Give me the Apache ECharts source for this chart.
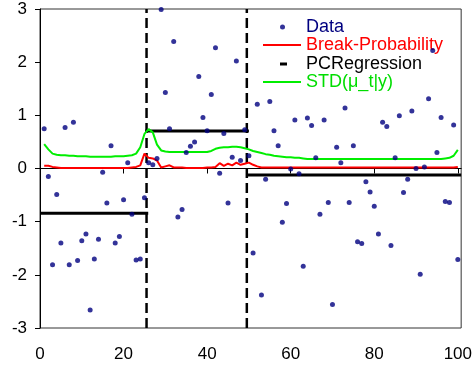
<!DOCTYPE html>
<html lang="en" style="height: 100%">
<head>
  <meta charset="utf-8">
</head>
<body style="height: 100%; margin: 0">
  <div id="container" style="height: 100%"></div>

  <script type="text/javascript" src="https://cdn.jsdelivr.net/npm/echarts@6/dist/echarts.min.js"></script>

  <script type="text/javascript">
    // observations y_t for t = 1..100
    var dataY = [
      0.75, -0.15, -1.81, -0.49, -1.40, 0.77, -1.81, 0.87, -1.73, -1.36,
      -1.23, -2.66, -1.70, -1.33, -0.07, -0.65, 0.43, -1.40, -1.28, -0.59,
      0.11, -0.86, -1.72, -1.70, -0.55, 0.11, 0.07, 0.19, 2.99, 1.43,
      0.75, 2.39, -0.91, -0.77, 0.30, 0.42, 0.50, 1.73, 0.96, 0.71,
      1.39, 2.27, -0.09, 0.66, -0.65, 0.21, 2.02, 0.15, 0.73, 0.24,
      -1.59, 1.21, -2.38, -0.20, 1.26, 0.71, 0.43, -1.01, -0.66, -0.01,
      0.91, -0.10, -1.84, 0.95, 0.81, 0.20, -0.86, 0.91, -0.64, -2.56,
      0.40, 0.11, 1.14, -0.64, 0.43, -1.38, -1.41, -0.25, -0.44, -0.71,
      -1.23, 0.87, 0.79, -1.45, 0.20, 0.99, -0.45, -0.20, 1.08, 0.00,
      -1.99, 0.03, 1.31, 2.22, 0.30, 0.96, -0.62, -0.64, 0.82, -1.71
    ];

    // posterior break probability
    var breakProb = [
      0.05, 0.05, 0.03, 0.02, 0.01, 0.01, 0.01, 0.01, 0.01, 0.01,
      0.01, 0.01, 0.01, 0.01, 0.01, 0.01, 0.01, 0.01, 0.01, 0.01,
      0.01, 0.02, 0.03, 0.06, 0.28, 0.20, 0.19, 0.15, 0.02, 0.04,
      0.06, 0.02, 0.02, 0.02, 0.01, 0.01, 0.01, 0.01, 0.01, 0.02,
      0.02, 0.03, 0.10, 0.05, 0.09, 0.06, 0.11, 0.07, 0.09, 0.11,
      0.07, 0.04, 0.02, 0.02, 0.02, 0.02, 0.02, 0.02, 0.02, 0.02,
      0.02, 0.02, 0.02, 0.02, 0.02, 0.02, 0.02, 0.02, 0.02, 0.02,
      0.02, 0.02, 0.02, 0.02, 0.02, 0.02, 0.02, 0.02, 0.02, 0.02,
      0.02, 0.02, 0.02, 0.02, 0.02, 0.02, 0.02, 0.02, 0.02, 0.02,
      0.02, 0.02, 0.02, 0.02, 0.02, 0.02, 0.02, 0.02, 0.02, 0.03
    ];

    // posterior std of mu_t
    var stdMu = [
      0.46, 0.36, 0.28, 0.26, 0.25, 0.25, 0.24, 0.24, 0.23, 0.23,
      0.23, 0.22, 0.22, 0.22, 0.22, 0.22, 0.22, 0.23, 0.23, 0.23,
      0.24, 0.25, 0.28, 0.40, 0.65, 0.74, 0.68, 0.45, 0.34, 0.32,
      0.31, 0.31, 0.31, 0.31, 0.31, 0.31, 0.31, 0.31, 0.31, 0.31,
      0.33, 0.37, 0.39, 0.40, 0.40, 0.41, 0.41, 0.40, 0.38, 0.36,
      0.33, 0.31, 0.29, 0.27, 0.26, 0.24, 0.23, 0.22, 0.21, 0.21,
      0.20, 0.20, 0.19, 0.18, 0.18, 0.18, 0.18, 0.18, 0.18, 0.18,
      0.18, 0.18, 0.18, 0.18, 0.18, 0.18, 0.18, 0.18, 0.18, 0.18,
      0.18, 0.18, 0.18, 0.18, 0.18, 0.18, 0.18, 0.18, 0.18, 0.18,
      0.18, 0.18, 0.18, 0.18, 0.18, 0.18, 0.19, 0.20, 0.24, 0.35
    ];

    // piecewise constant regression: [start, end, level]
    var pcSegments = [[0, 25.9, -0.84], [25.2, 50.0, 0.705], [49.3, 100.8, -0.12]];
    var breakPoints = [25.5, 49.5];

    var xTicks = [0, 20, 40, 60, 80, 100];

    var dom = document.getElementById('container');
    var myChart = echarts.init(dom, null, { renderer: 'canvas' });

    var font = "'Liberation Sans', Arial, sans-serif";

    function pairs(arr) {
      return arr.map(function (v, i) { return [i + 1, v]; });
    }

    var pcData = [];
    pcSegments.forEach(function (s) {
      pcData.push([s[0], s[2]], [s[1], s[2]], [s[1], '-']);
    });

    var breakData = [];
    breakPoints.forEach(function (b) {
      breakData.push([b, -3], [b, 3], [b, '-']);
    });

    function legendRow(name, top, color, icon, w, h) {
      return {
        data: [{ name: name, icon: icon }],
        left: 263,
        top: top,
        padding: 0,
        itemWidth: w,
        itemHeight: h,
        itemGap: 0,
        selectedMode: false,
        textStyle: { color: color, fontSize: 18, fontFamily: font, padding: [0, 0, 0, 0] }
      };
    }

    var option = {
      animation: false,
      backgroundColor: '#fff',
      grid: {
        left: 40, right: 12, top: 9, bottom: 42,
        show: true, borderColor: '#333', borderWidth: 1
      },
      legend: [
        legendRow('Data', 18, '#000080', 'path://M0,0M38,5M17,2.5a2.5,2.5 0 1 1 5,0a2.5,2.5 0 1 1 -5,0z', 38, 5),
        legendRow('Break-Probability', 36, '#ff0000', 'rect', 38, 2),
        legendRow('PCRegression', 55, '#000000', 'path://M0,0M38,3M17,0h7v3h-7z', 38, 3),
        legendRow('STD(μ_t|y)', 73, '#00dd00', 'rect', 38, 2)
      ],
      xAxis: {
        type: 'value',
        min: 0,
        max: 100.8,
        axisLine: { show: true, lineStyle: { color: '#000', width: 1 } },
        axisTick: { show: true, length: 5, lineStyle: { color: '#000' }, customValues: xTicks },
        axisLabel: { color: '#000', fontSize: 17, fontFamily: font, margin: 18, customValues: xTicks },
        splitLine: { show: false }
      },
      yAxis: {
        type: 'value',
        min: -3,
        max: 3,
        interval: 1,
        axisLine: { show: true, lineStyle: { color: '#000', width: 1 } },
        axisTick: { show: true, length: 5, lineStyle: { color: '#000' } },
        axisLabel: { color: '#000', fontSize: 17, fontFamily: font, margin: 13 },
        splitLine: { show: false }
      },
      series: [
        {
          name: 'PCRegression',
          type: 'line',
          data: pcData,
          symbol: 'none',
          color: '#000',
          lineStyle: { color: '#000', width: 3 },
          z: 3
        },
        {
          name: 'breaks',
          type: 'line',
          data: breakData,
          symbol: 'none',
          lineStyle: { color: '#000', width: 2.5, type: [10, 5] },
          z: 3
        },
        {
          name: 'Break-Probability',
          type: 'line',
          data: pairs(breakProb),
          symbol: 'none',
          color: '#ff0000',
          lineStyle: { color: '#ff0000', width: 2 },
          z: 4
        },
        {
          name: 'STD(μ_t|y)',
          type: 'line',
          data: pairs(stdMu),
          symbol: 'none',
          color: '#00ee00',
          lineStyle: { color: '#00ee00', width: 2 },
          z: 4
        },
        {
          name: 'Data',
          type: 'scatter',
          data: pairs(dataY),
          symbol: 'circle',
          symbolSize: 5,
          color: '#000080',
          itemStyle: { color: '#000080' },
          z: 5
        }
      ]
    };

    myChart.setOption(option);
    window.addEventListener('resize', myChart.resize);
  </script>
</body>
</html>
